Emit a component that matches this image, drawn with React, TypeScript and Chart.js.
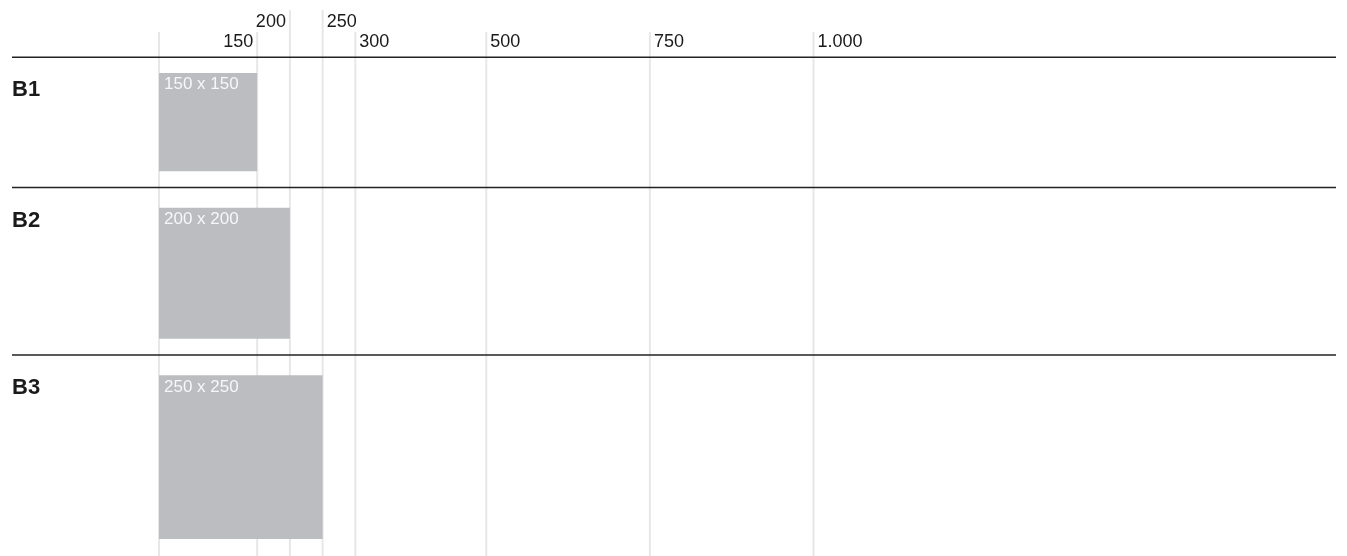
import React, { useEffect, useRef } from "react";
import { Chart, registerables } from "chart.js";

Chart.register(...registerables);

// ---- data ----
const categories = ["B1", "B2", "B3"];
const sizes = [150, 200, 250];
const tickValues = [0, 150, 200, 250, 300, 500, 750, 1000];
const tickLabels = ["", "150", "200", "250", "300", "500", "750", "1.000"];

// ---- layout / style constants (not data) ----
const W = 1347;
const H = 556;
const PX_PER_UNIT = 0.6545;
const ZERO_PX = 159;
const X_MIN = -ZERO_PX / PX_PER_UNIT;
const X_MAX = X_MIN + W / PX_PER_UNIT;
const Y_MAX = H / PX_PER_UNIT;
const HEADER_UNITS = 87.5;
const PAD_TOP_UNITS = [24, 31, 31];
const PAD_BOTTOM_UNITS = 25;
const SEP_X0 = (12 - ZERO_PX) / PX_PER_UNIT;
const SEP_X1 = (1336 - ZERO_PX) / PX_PER_UNIT;
const UPPER_TICKS = ["200", "250"];
const RIGHT_ALIGNED = ["150", "200"];
const FONT = '"Liberation Sans", Arial, Helvetica, sans-serif';

function layoutRows() {
  const seps: number[] = [];
  const tops: number[] = [];
  let y = HEADER_UNITS;
  sizes.forEach((s, i) => {
    seps.push(y);
    const t = y + PAD_TOP_UNITS[i];
    tops.push(t);
    y = t + s + PAD_BOTTOM_UNITS;
  });
  return { seps, tops };
}

export default function App() {
  const ref = useRef<HTMLCanvasElement | null>(null);

  useEffect(() => {
    if (!ref.current) return;
    const { seps, tops } = layoutRows();

    const gridSets = tickValues.map((v, i) => ({
      data: [
        { x: v, y: (UPPER_TICKS.includes(tickLabels[i]) ? 10 : 32) / PX_PER_UNIT },
        { x: v, y: Y_MAX },
      ],
      borderColor: "#e7e7e9",
      borderWidth: 2,
      pointRadius: 0,
      fill: false,
      order: 3,
    }));

    const rectSets = sizes.map((s, i) => {
      const t = tops[i];
      return {
        data: [
          { x: 0, y: t },
          { x: s, y: t },
          { x: s, y: t + s },
          { x: 0, y: t + s },
          { x: 0, y: t },
        ],
        borderColor: "rgba(0,0,0,0)",
        borderWidth: 0,
        backgroundColor: "#bcbdc1",
        pointRadius: 0,
        fill: "shape",
        order: 1,
      };
    });

    const sepSets = seps.map((y) => ({
      data: [
        { x: SEP_X0, y },
        { x: SEP_X1, y },
      ],
      borderColor: "#222222",
      borderWidth: 1.6,
      pointRadius: 0,
      fill: false,
      order: 2,
    }));

    const textPlugin = {
      id: "texts",
      afterDatasetsDraw(chart: any) {
        const ctx = chart.ctx;
        const xs = chart.scales.x;
        const ys = chart.scales.y;
        ctx.save();
        // tick labels
        ctx.font = `18px ${FONT}`;
        ctx.fillStyle = "#1a1a1a";
        ctx.textBaseline = "alphabetic";
        tickValues.forEach((v, i) => {
          const label = tickLabels[i];
          if (!label) return;
          const px = xs.getPixelForValue(v);
          const upper = UPPER_TICKS.includes(label);
          const right = RIGHT_ALIGNED.includes(label);
          ctx.textAlign = right ? "right" : "left";
          ctx.fillText(label, right ? px - 4 : px + 4, upper ? 26.5 : 46.5);
        });
        // row labels
        ctx.font = `bold 22px ${FONT}`;
        ctx.textAlign = "left";
        categories.forEach((c, i) => {
          const py = ys.getPixelForValue(seps[i]);
          ctx.fillText(c, 12, py + 39);
        });
        // rect labels
        ctx.font = `17px ${FONT}`;
        ctx.fillStyle = "rgba(255,255,255,0.88)";
        sizes.forEach((s, i) => {
          const px = xs.getPixelForValue(0);
          const py = ys.getPixelForValue(tops[i]);
          ctx.fillText(`${s} x ${s}`, px + 5, py + 16.3);
        });
        ctx.restore();
      },
    };

    const chart = new Chart(ref.current, {
      type: "line",
      data: { datasets: [...rectSets, ...sepSets, ...gridSets] as any },
      options: {
        animation: false,
        responsive: false,
        devicePixelRatio: 1,
        layout: { padding: 0 },
        elements: { line: { tension: 0 } },
        scales: {
          x: { type: "linear", min: X_MIN, max: X_MAX, display: false },
          y: { type: "linear", min: 0, max: Y_MAX, reverse: true, display: false },
        },
        plugins: {
          legend: { display: false },
          tooltip: { enabled: false },
        },
        events: [],
      },
      plugins: [textPlugin],
    });
    return () => chart.destroy();
  }, []);

  return (
    <div style={{ position: "absolute", left: 0, top: 0, width: W, height: H, background: "#fff" }}>
      <canvas ref={ref} width={W} height={H} style={{ display: "block", width: W, height: H }} />
    </div>
  );
}
